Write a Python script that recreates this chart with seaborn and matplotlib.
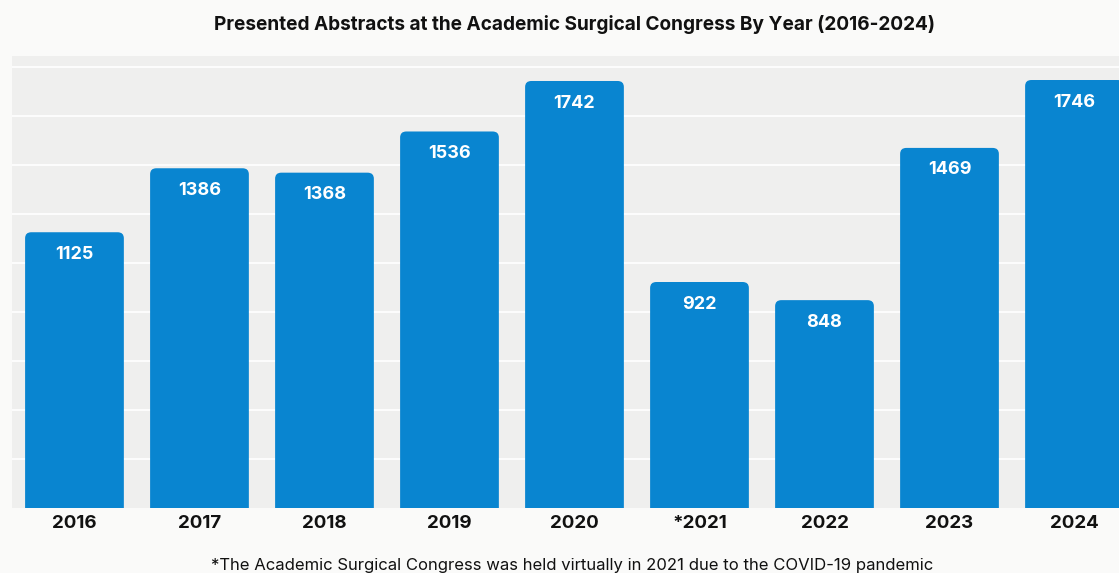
import pandas as pd
import matplotlib
matplotlib.use('Agg')
import matplotlib.pyplot as plt
import seaborn as sns
from matplotlib.patches import FancyBboxPatch

# data
years = ['2016', '2017', '2018', '2019', '2020', '*2021', '2022', '2023', '2024']
abstracts = [1125, 1386, 1368, 1536, 1742, 922, 848, 1469, 1746]

df = pd.DataFrame({'Year': years, 'Abstracts': abstracts})

sns.set_style('white')
plt.rcParams['font.family'] = ['Inter', 'DejaVu Sans']

bar_color = '#0985d0'
fig = plt.figure(figsize=(11.19, 5.73), dpi=100, facecolor='#fafaf9')
ax = fig.add_axes([0.0107, 0.1134, 0.9893, 0.7889])
ax.set_facecolor('#efefee')

sns.barplot(data=df, x='Year', y='Abstracts', color=bar_color, width=0.79,
            saturation=1, ax=ax, zorder=2)

# swap the plain bars for ones with rounded tops
for p in list(ax.patches):
    x, w, h = p.get_x(), p.get_width(), p.get_height()
    rb = FancyBboxPatch((x, -60), w, h + 60,
                        boxstyle='round,pad=0,rounding_size=0.05',
                        mutation_aspect=490, facecolor=bar_color,
                        edgecolor='none', zorder=2)
    ax.add_patch(rb)
    p.remove()

for i, v in enumerate(abstracts):
    ax.text(i, v - 90, str(v), ha='center', va='center', color='white',
            fontsize=13, fontweight='bold', zorder=3)

ax.set_xlim(-0.5, 8.356)
ax.set_ylim(0, 1844)
ax.set_yticks(range(200, 1801, 200))
ax.yaxis.grid(True, color='white', linewidth=1.2, zorder=0)
ax.set_axisbelow(True)
ax.set_yticklabels([])
ax.tick_params(axis='y', length=0)
ax.tick_params(axis='x', length=0, pad=5)
for lbl in ax.get_xticklabels():
    lbl.set_fontsize(13.5)
    lbl.set_fontweight('bold')
    lbl.set_color('#111111')
ax.set_xlabel('')
ax.set_ylabel('')
for s in ax.spines.values():
    s.set_visible(False)

fig.text(0.513, 0.958, 'Presented Abstracts at the Academic Surgical Congress By Year (2016-2024)',
         ha='center', va='center', fontsize=13.7, fontweight='bold', color='#111111')
fig.text(0.511, 0.013, '*The Academic Surgical Congress was held virtually in 2021 due to the COVID-19 pandemic',
         ha='center', va='center', fontsize=12, color='#111111')

fig.savefig('out.png', dpi=100, facecolor=fig.get_facecolor())
